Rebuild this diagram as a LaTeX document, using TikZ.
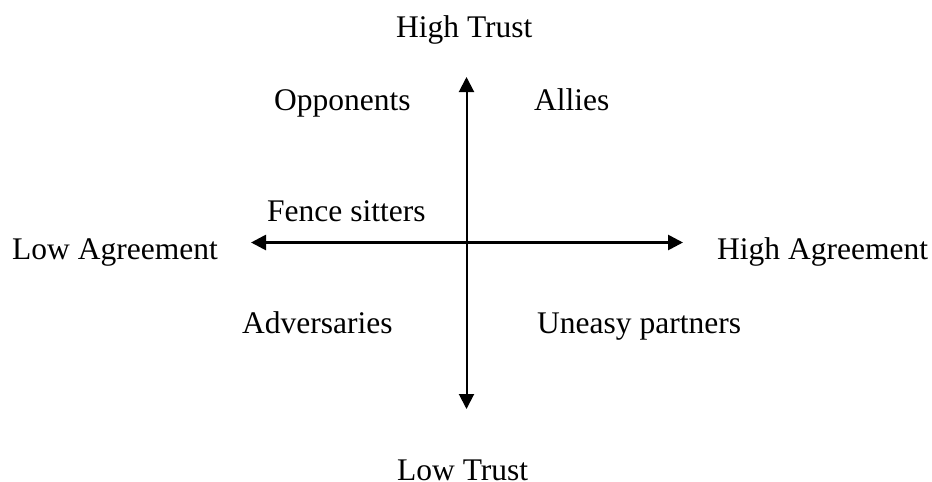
\documentclass[tikz,border=0pt]{standalone}
\usepackage{fontspec}
\setmainfont{Liberation Serif}
\usetikzlibrary{arrows.meta}
\begin{document}
\begin{tikzpicture}[x=1pt,y=-1pt,
  lbl/.style={anchor=base west,inner sep=0pt,font=\fontsize{31.5}{38}\selectfont},
  axis/.style={{Triangle[length=15pt,width=15pt]}-{Triangle[length=15pt,width=15pt]}}]
\useasboundingbox (0,0) rectangle (932,482);
\coordinate (top) at (466.5,77);
\coordinate (bot) at (466.5,409);
\coordinate (lft) at (251,242.5);
\coordinate (rgt) at (683,242.5);
\draw[axis,line width=2pt] (bot) -- (top);
\draw[axis,line width=2.7pt] (lft) -- (rgt);
\node[lbl] (ht) at (396,37.3) {High Trust};
\node[lbl] (lt) at (397,480) {Low Trust};
\node[lbl] (la) at (12,259) {Low Agreement};
\node[lbl] (ha) at (717,259) {High Agreement};
\node[lbl] (op) at (274,110.7) {Opponents};
\node[lbl] (al) at (534,110.7) {Allies};
\node[lbl] (fs) at (267,221.7) {Fence sitters};
\node[lbl] (ad) at (242,333) {Adversaries};
\node[lbl] (up) at (537,333) {Uneasy partners};
\end{tikzpicture}
\end{document}
